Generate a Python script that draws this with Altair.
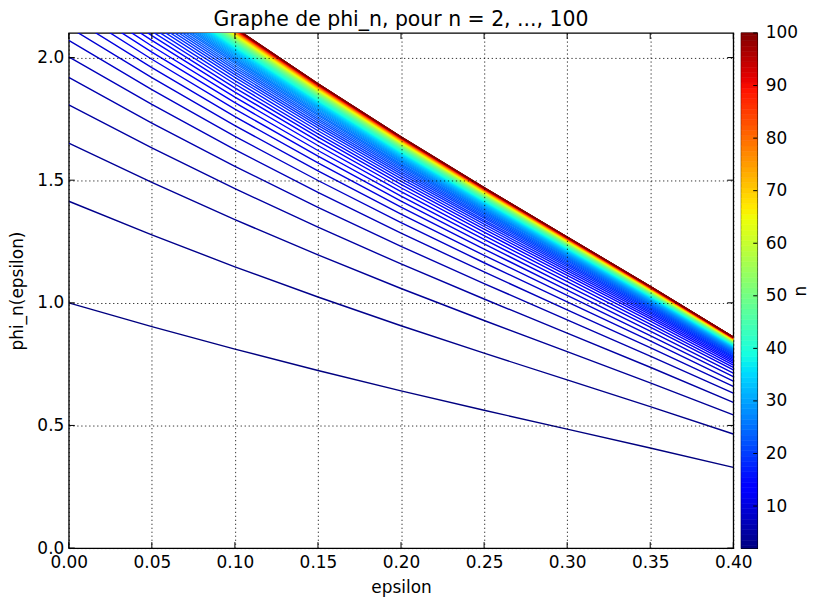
import altair as alt
import pandas as pd

# ---------------- data ----------------
n_values = list(range(2, 101))

# phi_n(0) for n = 2 ... 100 (values above 2.1 are outside the clipped view)
phi_at_zero = [
    1.000, 1.414, 1.651, 1.807, 1.919, 2.003, 2.070, 2.124, 2.169, 2.207,
    2.239, 2.267, 2.292, 2.314, 2.333, 2.350, 2.366, 2.380, 2.393, 2.405,
    2.416, 2.426, 2.436, 2.444, 2.453, 2.460, 2.467, 2.474, 2.480, 2.486,
    2.492, 2.497, 2.502, 2.507, 2.511, 2.515, 2.519, 2.523, 2.527, 2.530,
    2.534, 2.537, 2.540, 2.543, 2.546, 2.548, 2.551, 2.554, 2.556, 2.558,
    2.561, 2.563, 2.565, 2.567, 2.569, 2.571, 2.572, 2.574, 2.576, 2.577,
    2.579, 2.581, 2.582, 2.584, 2.585, 2.586, 2.588, 2.589, 2.590, 2.591,
    2.592, 2.594, 2.595, 2.596, 2.597, 2.598, 2.599, 2.600, 2.601, 2.602,
    2.603, 2.603, 2.604, 2.605, 2.606, 2.607, 2.607, 2.608, 2.609, 2.610,
    2.610, 2.611, 2.612, 2.612, 2.613, 2.614, 2.614, 2.615, 2.615,
]

# epsilon sample points and the read ratio phi_n(eps) / phi_n(0)
eps_grid = [0.00, 0.05, 0.10, 0.15, 0.20, 0.25, 0.30, 0.35, 0.40]
ratio_profile = [1.000, 0.903, 0.811, 0.724, 0.641, 0.562, 0.485, 0.408, 0.329]

x_ticks = [0.0, 0.05, 0.10, 0.15, 0.20, 0.25, 0.30, 0.35, 0.40]
y_ticks = [0.0, 0.5, 1.0, 1.5, 2.0]
cbar_ticks = [10, 20, 30, 40, 50, 60, 70, 80, 90, 100]

# jet colormap stops mapped onto n in [2, 100]
jet_stops = [2, 12.78, 14.25, 35.32, 36.3, 38.75, 64.72, 65.7, 66.68, 89.22, 91.18, 100]
jet_colors = ["#000080", "#0000ff", "#0000ff", "#00dbff", "#00e6f7", "#15ffe2",
              "#eeff08", "#f7f500", "#ffec00", "#ff1300", "#e80000", "#800000"]

# ---------------- tables ----------------
rows = []
for n, a in zip(n_values, phi_at_zero):
    for e, r in zip(eps_grid, ratio_profile):
        rows.append({"n": n, "eps": e, "phi": a * r})
df = pd.DataFrame(rows)

cb_df = pd.DataFrame({
    "n": n_values,
    "lo": [max(2, n - 0.5) for n in n_values],
    "hi": [min(100, n + 0.5) for n in n_values],
})

FONT = "DejaVu Sans"
W, H = 667, 517
CBW = 16
TL = 6

color_scale = alt.Scale(domain=jet_stops, range=jet_colors, interpolate="rgb")
xscale = alt.Scale(domain=[0, 0.4], nice=False, zero=False)
yscale = alt.Scale(domain=[0, 2.1], nice=False, zero=False)

x_axis = alt.Axis(values=x_ticks, format=".2f", title="epsilon",
                  grid=True, ticks=False, domain=False, zindex=1,
                  labelPadding=6, titlePadding=10, labelFlush=False)
y_axis = alt.Axis(values=y_ticks, format=".1f", title="phi_n(epsilon)",
                  grid=True, ticks=False, domain=False, zindex=1,
                  labelPadding=5, titlePadding=10, labelFlush=False)

lines = alt.Chart(df).mark_line(clip=True, strokeWidth=1.4).encode(
    x=alt.X("eps:Q", scale=xscale, axis=x_axis),
    y=alt.Y("phi:Q", scale=yscale, axis=y_axis),
    color=alt.Color("n:Q", scale=color_scale, legend=None),
    detail="n:N",
    order=alt.Order("eps:Q"),
)

xt = pd.DataFrame({"eps": x_ticks})
yt = pd.DataFrame({"phi": y_ticks})

bottom_ticks = alt.Chart(xt).mark_rule(color="black", strokeWidth=1).encode(
    x=alt.X("eps:Q", scale=xscale, axis=x_axis),
    y=alt.value(H), y2=alt.value(H - TL))
top_ticks = alt.Chart(xt).mark_rule(color="black", strokeWidth=1).encode(
    x=alt.X("eps:Q", scale=xscale, axis=x_axis),
    y=alt.value(0), y2=alt.value(TL))
left_ticks = alt.Chart(yt).mark_rule(color="black", strokeWidth=1).encode(
    y=alt.Y("phi:Q", scale=yscale, axis=y_axis),
    x=alt.value(0), x2=alt.value(TL))
right_ticks = alt.Chart(yt).mark_rule(color="black", strokeWidth=1).encode(
    y=alt.Y("phi:Q", scale=yscale, axis=y_axis),
    x=alt.value(W), x2=alt.value(W - TL))

main = alt.layer(lines, bottom_ticks, top_ticks, left_ticks, right_ticks).properties(
    width=W, height=H,
    title=alt.TitleParams("Graphe de phi_n, pour n = 2, ..., 100", fontSize=20.5,
                          font=FONT, fontWeight="normal", color="black",
                          anchor="middle", offset=2),
)

cbar_y = alt.Scale(domain=[2, 100], nice=False, zero=False)
cbar_axis = alt.Axis(orient="right", values=cbar_ticks, ticks=False, domain=False,
                     grid=False, labelPadding=8, title="n", titleAngle=270,
                     titlePadding=12, labelFlush=False)
cbar_rect = alt.Chart(cb_df).mark_rect(strokeWidth=0.6).encode(
    x=alt.value(0), x2=alt.value(CBW),
    y=alt.Y("lo:Q", scale=cbar_y, axis=cbar_axis),
    y2="hi:Q",
    color=alt.Color("n:Q", scale=color_scale, legend=None),
    stroke=alt.Stroke("n:Q", scale=color_scale, legend=None),
)
cbar_tick_marks = alt.Chart(pd.DataFrame({"lo": cbar_ticks})).mark_rule(
    color="black", strokeWidth=1).encode(
    y=alt.Y("lo:Q", scale=cbar_y, axis=cbar_axis),
    x=alt.value(CBW), x2=alt.value(CBW - 4))

cbar = alt.layer(cbar_rect, cbar_tick_marks).properties(width=CBW, height=H)

chart = alt.hconcat(main, cbar, spacing=8, bounds="flush").properties(
    padding={"left": 0, "top": 0, "right": 0, "bottom": 0}
).configure_view(
    stroke="black", strokeWidth=1.3
).configure_axis(
    labelFont=FONT, labelFontSize=17, labelColor="black",
    titleFont=FONT, titleFontSize=17, titleFontWeight="normal", titleColor="black",
    gridColor="black", gridOpacity=1, gridWidth=0.8, gridDash=[1.3, 2.7],
)

chart.save("out.html", embed_options={"renderer": "svg", "actions": False})
